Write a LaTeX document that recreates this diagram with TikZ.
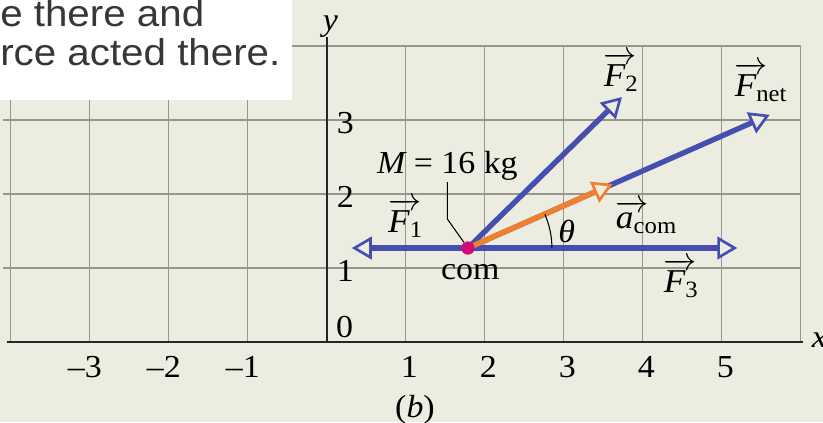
\documentclass[tikz,border=0pt]{standalone}
\usepackage{amsmath,mathtools}
\usepackage{fontspec}
\setmainfont[FakeStretch=1.06]{Liberation Serif}
\newfontfamily\notefont[FakeStretch=1.08]{Liberation Sans}
\usetikzlibrary{arrows.meta,positioning,calc}
\definecolor{paper}{RGB}{236,237,224}
\definecolor{gridgray}{RGB}{150,150,138}
\definecolor{forceblue}{RGB}{70,78,176}
\definecolor{accorange}{RGB}{240,128,48}
\definecolor{commagenta}{RGB}{208,10,120}
\definecolor{notegray}{RGB}{55,55,55}
% vector symbol with arrow over the letter only
\newcommand\vecsym[2]{\ensuremath{\mathrlap{\overrightarrow{\phantom{\text{\itshape #1}}\mkern5mu}}\text{\itshape #1}_{\text{#2}}}}

\begin{document}
\begin{tikzpicture}[
    x=59.25pt, y=55.5pt,
    lbl/.style={font=\fontsize{24}{28}\selectfont,inner sep=1pt},
    veclbl/.style={font=\fontsize{25}{29}\selectfont,inner sep=1pt},
    note/.style={font=\notefont\fontsize{28}{34}\selectfont,text=notegray,
                 inner sep=0pt,anchor=base west},
    force/.style={line width=4pt,forceblue,
                  -{Triangle[length=15pt,width=17pt,fill=paper,line width=2pt]}},
    accel/.style={force,accorange},
    comdot/.style={circle,fill=commagenta,minimum size=10pt,inner sep=0pt},
    axis/.style={line width=1.5pt,black!85},
    gridline/.style={line width=0.8pt,gridgray},
    leader/.style={line width=0.8pt,black}
  ]
    % page
    \fill[paper] (-4.1329,-1.0811) rectangle (6.2848,4.6216);
    \useasboundingbox (-4.1329,-1.0811) rectangle (6.2848,4.6216);

    % grid
    \foreach \gx in {-4,-3,-2,-1,1,2,3,4,5,6}
      \draw[gridline] (\gx,0) -- (\gx,4);
    \foreach \gy in {1,2,3,4}
      \draw[gridline] (-4.1,\gy) -- (6,\gy);

    % caption box (cut off)
    \fill[white] (-4.1329,3.27) rectangle (-0.437,4.6216);
    \node[note] (note1) at (-4.1329,4.27) {e there and};
    \node[note] (note2) at (-4.1329,3.73) {rce acted there.};

    % axes
    \draw[axis] (-4.05,0) -- (6.03,0);
    \draw[axis] (0,0) -- (0,4.12);
    \node[lbl] (xlab) at (6.24,0.02) {\itshape x};
    \node[lbl] (ylab) at (0.05,4.26) {\itshape y};
    \foreach \gy in {1,2,3}
      \node[lbl] (yt\gy) at (0.24,\gy-0.04) {\gy};
    \node[lbl] (yt0) at (0.23,0.2) {0};
    \foreach \gx/\gt in {-3/{–3},-2/{–2},-1/{–1}}
      \node[lbl] (xt\gx) at (\gx-0.06,-0.34) {\gt};
    \foreach \gx in {1,2,3,4,5}
      \node[lbl] (xt\gx) at (\gx+0.05,-0.34) {\gx};
    \node[lbl] (cap) at (1.12,-0.92) {({\itshape b})};

    % forces
    \coordinate (com) at (1.79,1.27);
    \coordinate (f1tip) at (0.32,1.27);
    \coordinate (f3tip) at (5.2,1.27);
    \coordinate (f2tip) at (3.74,3.31);
    \coordinate (fnettip) at (5.61,3.07);
    \coordinate (acctip) at ($(com)!0.48!(fnettip)$);

    \draw[force] (com) -- (f1tip);
    \draw[force] (com) -- (f3tip);
    \draw[force] (com) -- (f2tip);
    \draw[force] (com) -- (fnettip);
    \draw[accel] (com) -- (acctip);

    % angle
    \draw[leader] ($(com)+(63pt,0)$) arc[start angle=0,end angle=23.7,radius=63pt];

    % labels
    \node[lbl] (mlab) at (1.53,2.38) {{\itshape M} = 16 kg};
    \node[comdot] (dot) at (com) {};
    \draw[leader] (mlab.south) -- ++(0,-0.5) -- (dot);
    \node[lbl] (comlab) at (1.82,0.95) {com};
    \node[lbl] (thlab) at (3.04,1.5) {\itshape θ};
    \node[veclbl] (f1lab) at (1.0,1.68) {\vecsym{F}{1}};
    \node[veclbl] (f2lab) at (3.73,3.65) {\vecsym{F}{2}};
    \node[veclbl] (fnetlab) at (5.5,3.51) {\vecsym{F}{net}};
    \node[veclbl] (f3lab) at (4.49,0.86) {\vecsym{F}{3}};
    \node[veclbl] (acclab) at (4.05,1.69) {\vecsym{a}{com}};
\end{tikzpicture}
\end{document}
